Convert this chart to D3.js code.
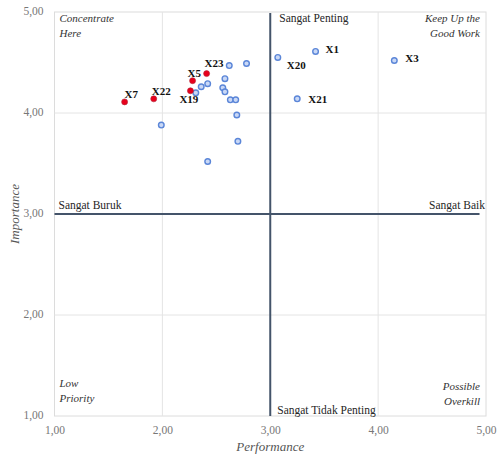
<!DOCTYPE html>
<html>
<head>
<meta charset="utf-8">
<script src="https://cdn.jsdelivr.net/npm/d3@7"></script>
<style>
  body { margin: 0; background: #fff; }
  svg { display: block; font-family: "Liberation Serif", "DejaVu Serif", serif; }
</style>
</head>
<body>
<div id="canvas"></div>
<script>
// Performance (x) and importance (y) for the 23 attributes.
const ids = ["X1", "X2", "X3", "X4", "X5", "X6", "X7", "X8", "X9", "X10", "X11", "X12",
             "X13", "X14", "X15", "X16", "X17", "X18", "X19", "X20", "X21", "X22", "X23"];
const performance = [3.42, 2.31, 4.15, 2.36, 2.28, 2.42, 1.65, 2.62, 2.78, 2.58, 2.56, 2.58,
                     2.63, 2.68, 2.69, 1.99, 2.70, 2.42, 2.26, 3.07, 3.25, 1.92, 2.41];
const importance = [4.61, 4.20, 4.52, 4.26, 4.32, 4.29, 4.11, 4.47, 4.49, 4.34, 4.25, 4.21,
                    4.13, 4.13, 3.98, 3.88, 3.72, 3.52, 4.22, 4.55, 4.14, 4.14, 4.39];
// Attributes flagged in red.
const highlighted = ["X5", "X7", "X19", "X22", "X23"];
// Attributes that carry a text label.
const labelled = ["X1", "X3", "X5", "X7", "X19", "X20", "X21", "X22", "X23"];
const ticks = [1, 2, 3, 4, 5];

// Label offsets from the point (layout only).
const labelOffset = {
  X1: [10, 2], X3: [11, 2], X5: [-5, -4], X7: [0, -4], X19: [-11, 12],
  X20: [9, 12], X21: [11, 4], X22: [-2, -4], X23: [-2, -7]
};

const w = 497, h = 456;
const margin = { top: 12, right: 11, bottom: 40, left: 54.5 };

const svg = d3.select("#canvas")
    .append("svg")
    .attr("width", w)
    .attr("height", h);

const x = d3.scaleLinear().domain([1, 5]).range([margin.left, w - margin.right]);
const y = d3.scaleLinear().domain([1, 5]).range([h - margin.bottom, margin.top]);

const fmt = d => d.toFixed(2).replace(".", ",");

// Plot frame and light gridlines.
svg.append("rect")
    .attr("x", x(1)).attr("y", y(5))
    .attr("width", x(5) - x(1)).attr("height", y(1) - y(5))
    .attr("fill", "#fff")
    .attr("stroke", "#dcdcdc");

svg.selectAll(".gx")
    .data([2, 4])
    .enter().append("line")
    .attr("x1", d => x(d)).attr("x2", d => x(d))
    .attr("y1", y(5)).attr("y2", y(1))
    .attr("stroke", "#e4e4e4");

svg.selectAll(".gy")
    .data([2, 4])
    .enter().append("line")
    .attr("y1", d => y(d)).attr("y2", d => y(d))
    .attr("x1", x(1)).attr("x2", x(5))
    .attr("stroke", "#e4e4e4");

// Axes (tick labels only).
const xAxis = svg.append("g")
    .attr("transform", `translate(0,${y(1)})`)
    .call(d3.axisBottom(x).tickValues(ticks).tickFormat(fmt).tickSize(0).tickPadding(10));
const yAxis = svg.append("g")
    .attr("transform", `translate(${x(1)},0)`)
    .call(d3.axisLeft(y).tickValues(ticks).tickFormat(fmt).tickSize(0).tickPadding(11));
[xAxis, yAxis].forEach(g => {
  g.attr("font-family", null);
  g.select(".domain").remove();
  g.selectAll("text")
    .attr("font-size", 11.5)
    .attr("fill", "#777");
});
yAxis.selectAll("text").attr("dy", "0.2em");

// Quadrant dividers at 3,00.
svg.append("line")
    .attr("x1", x(3)).attr("x2", x(3))
    .attr("y1", y(5) + 1).attr("y2", y(1))
    .attr("stroke", "#44546a").attr("stroke-width", 2);
svg.append("line")
    .attr("x1", x(1)).attr("x2", x(4.94))
    .attr("y1", y(3)).attr("y2", y(3))
    .attr("stroke", "#44546a").attr("stroke-width", 2);

// Quadrant captions.
const italic = [
  { t: ["Concentrate", "Here"], x: x(1) + 5, y: y(5) + 10, anchor: "start" },
  { t: ["Keep Up the", "Good Work"], x: x(5) - 6, y: y(5) + 10, anchor: "end" },
  { t: ["Low", "Priority"], x: x(1) + 5, y: y(1) - 29, anchor: "start" },
  { t: ["Possible", "Overkill"], x: x(5) - 6, y: y(1) - 26, anchor: "end" }
];
italic.forEach(q => {
  const txt = svg.append("text")
      .attr("x", q.x).attr("y", q.y)
      .attr("text-anchor", q.anchor)
      .attr("font-style", "italic")
      .attr("font-size", 11)
      .attr("fill", "#333");
  q.t.forEach((line, i) => {
    txt.append("tspan").attr("x", q.x).attr("dy", i ? 15 : 0).text(line);
  });
});

const plain = [
  { t: "Sangat Penting", x: x(3) + 9, y: y(5) + 10, anchor: "start" },
  { t: "Sangat Tidak Penting", x: x(3) + 7, y: y(1) - 2, anchor: "start" },
  { t: "Sangat Buruk", x: x(1) + 4, y: y(3) - 5, anchor: "start" },
  { t: "Sangat Baik", x: x(5) - 1, y: y(3) - 5, anchor: "end" }
];
plain.forEach(q => {
  svg.append("text")
      .attr("x", q.x).attr("y", q.y)
      .attr("text-anchor", q.anchor)
      .attr("font-size", 11.5)
      .attr("fill", "#262626")
      .text(q.t);
});

// Axis titles.
svg.append("text")
    .attr("x", (x(1) + x(5)) / 2).attr("y", h - 5)
    .attr("text-anchor", "middle")
    .attr("font-style", "italic")
    .attr("font-size", 13)
    .attr("fill", "#555")
    .text("Performance");
svg.append("text")
    .attr("transform", `translate(19,${y(3)}) rotate(-90)`)
    .attr("text-anchor", "middle")
    .attr("font-style", "italic")
    .attr("font-size", 13)
    .attr("fill", "#555")
    .text("Importance");

// Points.
const data = ids.map((id, i) => ({ id, px: performance[i], imp: importance[i] }));

svg.selectAll(".pt")
    .data(data)
    .enter().append("circle")
    .attr("cx", d => x(d.px))
    .attr("cy", d => y(d.imp))
    .attr("r", d => highlighted.includes(d.id) ? 3 : 2.8)
    .attr("fill", d => highlighted.includes(d.id) ? "#e8001c" : "#c9d8f6")
    .attr("stroke", d => highlighted.includes(d.id) ? "#b0283a" : "#5b86d8")
    .attr("stroke-width", d => highlighted.includes(d.id) ? 0.6 : 1.4);

// Point labels.
svg.selectAll(".lbl")
    .data(data.filter(d => labelled.includes(d.id)))
    .enter().append("text")
    .attr("x", d => x(d.px) + labelOffset[d.id][0])
    .attr("y", d => y(d.imp) + labelOffset[d.id][1])
    .attr("font-size", 11)
    .attr("font-weight", "bold")
    .attr("fill", "#111")
    .text(d => d.id);
</script>
</body>
</html>
